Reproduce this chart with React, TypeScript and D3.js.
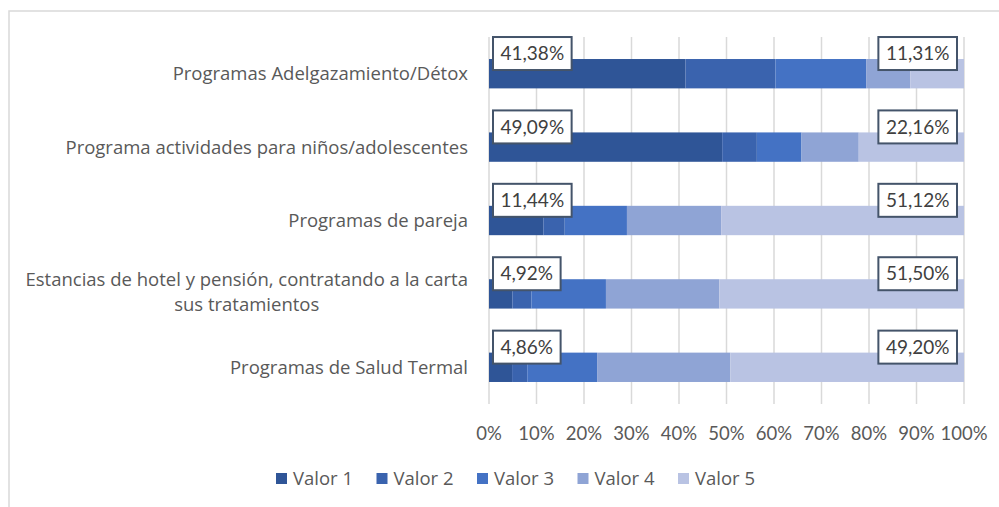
import React, { useEffect, useRef } from "react";
import * as d3 from "d3";

const categories = [
  ["Programas Adelgazamiento/Détox"],
  ["Programa actividades para niños/adolescentes"],
  ["Programas de pareja"],
  ["Estancias de hotel y pensión, contratando a la carta", "sus tratamientos"],
  ["Programas de Salud Termal"],
];
const seriesNames = ["Valor 1", "Valor 2", "Valor 3", "Valor 4", "Valor 5"];
const valor1 = [41.38, 49.09, 11.44, 4.92, 4.86];
const valor2 = [18.92, 7.3, 4.5, 4.0, 3.2];
const valor3 = [19.1, 9.4, 13.1, 15.7, 14.7];
const valor4 = [9.29, 12.05, 19.84, 23.88, 28.04];
const valor5 = [11.31, 22.16, 51.12, 51.5, 49.2];
const colors = ["#2F5597", "#3A63AE", "#4472C4", "#8FA4D5", "#B9C3E3"];
const xTicks = [0, 10, 20, 30, 40, 50, 60, 70, 80, 90, 100];

const FONT = "'Open Sans', Lato, sans-serif";
const LFONT = "Lato, 'Open Sans', sans-serif";

export default function App() {
  const ref = useRef<SVGSVGElement>(null);
  useEffect(() => {
    const svg = d3.select(ref.current);
    svg.selectAll("*").remove();
    const series = [valor1, valor2, valor3, valor4, valor5];
    const x = d3.scaleLinear().domain([0, 100]).range([489, 964]);
    const y = d3
      .scaleBand<number>()
      .domain(categories.map((_, i) => i))
      .range([37, 404])
      .paddingInner(0.6)
      .paddingOuter(0.3);

    // chart border
    svg
      .append("rect")
      .attr("x", 9)
      .attr("y", 11)
      .attr("width", 1100)
      .attr("height", 600)
      .attr("fill", "#fff")
      .attr("stroke", "#D9D9D9")
      .attr("stroke-width", 1.5);

    // gridlines
    svg
      .append("g")
      .selectAll("line")
      .data(xTicks)
      .join("line")
      .attr("x1", (d) => x(d))
      .attr("x2", (d) => x(d))
      .attr("y1", 37)
      .attr("y2", 404)
      .attr("stroke", "#D9D9D9")
      .attr("stroke-width", 1.5);

    // bars
    categories.forEach((_, i) => {
      let acc = 0;
      series.forEach((s, k) => {
        const v = s[i];
        svg
          .append("rect")
          .attr("x", x(acc))
          .attr("y", y(i)!)
          .attr("width", x(acc + v) - x(acc))
          .attr("height", y.bandwidth())
          .attr("fill", colors[k]);
        acc += v;
      });
    });

    // category labels
    const CS = 18.5;
    categories.forEach((lines, i) => {
      const cy = y(i)! + y.bandwidth() / 2;
      const lh = 25;
      const t = svg
        .append("text")
        .attr("font-family", FONT)
        .attr("font-size", CS)
        .attr("fill", "#595959");
      if (lines.length === 1) {
        t.append("tspan")
          .attr("x", 468)
          .attr("y", cy)
          .attr("dy", "0.35em")
          .attr("text-anchor", "end")
          .text(lines[0]);
      } else {
        const tmp = svg
          .append("text")
          .attr("font-family", FONT)
          .attr("font-size", CS)
          .text(lines[0]);
        const w = (tmp.node() as SVGTextElement).getComputedTextLength();
        tmp.remove();
        const center = 468 - w / 2;
        lines.forEach((ln, j) => {
          t.append("tspan")
            .attr("x", center)
            .attr("y", cy - 14 + j * lh)
            .attr("dy", "0.35em")
            .attr("text-anchor", "middle")
            .text(ln);
        });
      }
    });

    // data labels
    const fmt = (v: number) => v.toFixed(2).replace(".", ",") + "%";
    categories.forEach((_, i) => {
      const top = y(i)!;
      const items = [
        { v: valor1[i], anchor: "start", xa: x(0) + 4 },
        { v: valor5[i], anchor: "end", xa: x(100) - 7 },
      ];
      items.forEach((it) => {
        const g = svg.append("g");
        const txt = g
          .append("text")
          .attr("font-family", LFONT)
          .attr("font-size", 19)
          .attr("fill", "#404040")
          .text(fmt(it.v));
        const w = (txt.node() as SVGTextElement).getComputedTextLength();
        const bw = w + 15;
        const bx = it.anchor === "start" ? it.xa : it.xa - bw;
        const by = top - 22;
        g.insert("rect", "text")
          .attr("x", bx)
          .attr("y", by)
          .attr("width", bw)
          .attr("height", 33)
          .attr("fill", "#fff")
          .attr("stroke", "#44546A")
          .attr("stroke-width", 2);
        txt
          .attr("x", bx + bw / 2)
          .attr("y", by + 16.5)
          .attr("dy", "0.35em")
          .attr("text-anchor", "middle");
      });
    });

    // x tick labels
    svg
      .append("g")
      .selectAll("text")
      .data(xTicks)
      .join("text")
      .attr("x", (d) => x(d))
      .attr("y", 434)
      .attr("dy", "0.35em")
      .attr("text-anchor", "middle")
      .attr("font-family", LFONT)
      .attr("font-size", 18.5)
      .attr("fill", "#595959")
      .text((d) => d + "%");

    // legend
    const lg = svg.append("g");
    seriesNames.forEach((n, k) => {
      const lx = 276 + k * 100.5;
      lg.append("rect")
        .attr("x", lx)
        .attr("y", 473)
        .attr("width", 11)
        .attr("height", 11)
        .attr("fill", colors[k]);
      lg.append("text")
        .attr("x", lx + 17)
        .attr("y", 478.5)
        .attr("dy", "0.35em")
        .attr("font-family", FONT)
        .attr("font-size", 18.5)
        .attr("fill", "#595959")
        .text(n);
    });
  }, []);
  return (
    <svg
      ref={ref}
      width={999}
      height={507}
      style={{ position: "absolute", left: 0, top: 0, background: "#fff" }}
    />
  );
}
